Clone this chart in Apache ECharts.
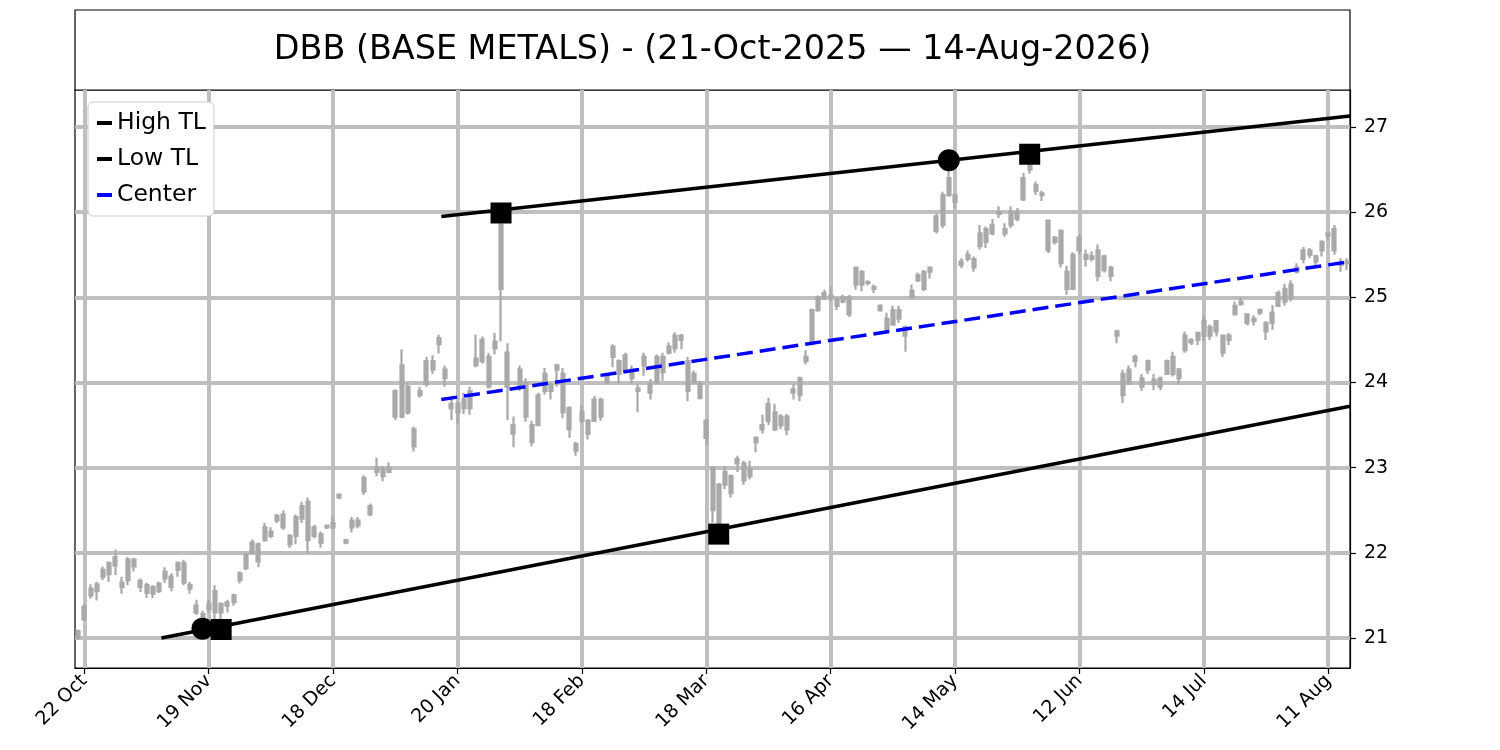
<!DOCTYPE html>
<html>
<head>
<meta charset="utf-8">
<script src="https://cdn.jsdelivr.net/npm/echarts@6/dist/echarts.min.js"></script>
<style>
html,body{margin:0;padding:0;background:#ffffff;}
#chart{width:1500px;height:750px;}
</style>
</head>
<body>
<div id="chart"></div>
<script>
// ---------------- DATA ----------------
const titleText = 'DBB (BASE METALS) - (21-Oct-2025 \u2014 14-Aug-2026)';
const startDate = '2025-10-21';
const marketHolidays = ['2025-11-27','2025-12-25','2026-01-01','2026-01-19','2026-02-16',
  '2026-04-03','2026-05-25','2026-06-19','2026-07-03'];
const monthNames = ['Jan','Feb','Mar','Apr','May','Jun','Jul','Aug','Sep','Oct','Nov','Dec'];
const xTickLabels = ['22 Oct','19 Nov','18 Dec','20 Jan','18 Feb','18 Mar','16 Apr','14 May','12 Jun','14 Jul','11 Aug'];
const yTicks = [21, 22, 23, 24, 25, 26, 27];

// [open, close, low, high] per trading day
const candles = [
  [21.08,21.00,20.98,21.10],[21.22,21.37,21.20,21.40],[21.50,21.58,21.46,21.63],[21.55,21.63,21.44,21.66],
  [21.72,21.80,21.68,21.84],[21.75,21.88,21.66,21.90],[21.85,21.95,21.74,22.04],[21.65,21.60,21.52,21.72],
  [21.68,21.92,21.62,21.95],[21.92,21.84,21.78,21.94],[21.67,21.60,21.54,21.70],[21.62,21.53,21.47,21.65],
  [21.52,21.60,21.47,21.62],[21.55,21.64,21.53,21.66],[21.70,21.78,21.65,21.83],[21.60,21.72,21.55,21.76],
  [21.80,21.88,21.72,21.90],[21.88,21.65,21.62,21.92],[21.62,21.58,21.52,21.66],[21.38,21.30,21.27,21.45],
  [21.28,21.20,21.11,21.32],[21.40,21.34,21.30,21.45],[21.30,21.55,21.22,21.62],[21.40,21.30,21.10,21.42],
  [21.38,21.42,21.30,21.45],[21.42,21.50,21.38,21.52],[21.68,21.76,21.64,21.78],[21.82,21.98,21.80,22.00],
  [22.00,22.12,21.98,22.16],[22.10,21.90,21.83,22.12],[22.15,22.30,22.13,22.35],[22.25,22.20,22.17,22.30],
  [22.38,22.43,22.35,22.46],[22.45,22.30,22.27,22.50],[22.10,22.20,22.06,22.22],[22.20,22.42,22.10,22.45],
  [22.40,22.55,22.35,22.60],[22.60,22.15,21.99,22.65],[22.30,22.20,22.17,22.33],[22.22,22.12,22.06,22.25],
  [22.30,22.32,22.28,22.33],[22.30,22.35,22.28,22.42],[22.65,22.68,22.63,22.70],[22.15,22.12,22.10,22.16],
  [22.30,22.38,22.24,22.42],[22.38,22.32,22.29,22.42],[22.72,22.88,22.68,22.91],[22.55,22.45,22.43,22.58],
  [23.00,22.95,22.90,23.12],[22.98,22.90,22.84,23.02],[22.95,23.00,22.95,23.06],[23.60,23.90,23.56,23.92],
  [23.60,24.20,23.58,24.39],[23.95,23.65,23.62,24.00],[23.45,23.25,23.19,23.48],[23.90,23.85,23.82,23.95],
  [23.98,24.25,23.95,24.30],[24.15,24.25,24.10,24.32],[24.45,24.52,24.34,24.56],[24.15,24.05,23.95,24.20],
  [23.75,23.70,23.56,23.80],[23.75,23.65,23.52,23.77],[23.80,23.70,23.63,23.88],[23.90,23.70,23.62,23.95],
  [24.20,24.28,24.18,24.56],[24.50,24.25,24.22,24.54],[24.30,23.95,23.93,24.35],[24.40,24.48,24.33,24.58],
  [25.10,25.85,24.48,25.99],[24.35,23.95,23.56,24.46],[23.50,23.40,23.24,23.60],[24.15,23.95,23.90,24.20],
  [24.00,23.60,23.54,24.05],[23.50,23.30,23.25,23.55],[23.50,23.85,23.50,23.88],[23.90,24.10,23.86,24.17],
  [23.90,23.97,23.80,24.00],[24.15,24.20,23.95,24.22],[24.10,23.65,23.58,24.17],[23.70,23.45,23.35,23.72],
  [23.28,23.20,23.14,23.30],[23.65,23.55,23.53,23.73],[23.55,23.40,23.33,23.57],[23.55,23.80,23.55,23.84],
  [23.80,23.60,23.55,23.82],[24.08,24.00,23.98,24.10],[24.30,24.42,24.18,24.45],[24.25,24.10,23.98,24.27],
  [24.15,24.32,24.12,24.35],[24.15,24.05,23.98,24.20],[23.90,23.93,23.65,23.98],[24.20,24.30,24.08,24.35],
  [23.98,23.88,23.80,24.04],[24.00,24.30,23.98,24.33],[24.30,24.12,24.02,24.35],[24.35,24.42,24.33,24.47],
  [24.55,24.40,24.35,24.59],[24.50,24.55,24.39,24.57],[24.25,23.90,23.78,24.30],[24.10,24.00,23.98,24.14],
  [23.98,23.82,23.80,24.02],[23.55,23.35,23.27,23.57],[23.00,22.50,22.35,23.02],[22.80,22.35,22.22,22.82],
  [22.80,22.95,22.75,23.02],[22.90,22.70,22.65,22.92],[23.05,23.10,22.95,23.14],[23.05,22.85,22.80,23.08],
  [22.90,22.98,22.86,23.08],[23.30,23.35,23.18,23.37],[23.45,23.50,23.40,23.62],[23.75,23.55,23.50,23.82],
  [23.65,23.45,23.43,23.75],[23.50,23.60,23.45,23.63],[23.60,23.45,23.38,23.63],[23.92,23.88,23.80,23.98],
  [23.85,24.05,23.78,24.07],[24.25,24.30,24.21,24.38],[24.45,24.85,24.44,24.87],[24.85,25.00,24.83,25.02],
  [25.00,25.05,24.97,25.09],[25.00,25.02,24.95,25.12],[24.90,24.98,24.85,25.00],[25.00,24.95,24.93,25.03],
  [25.00,24.80,24.77,25.03],[25.15,25.35,25.09,25.36],[25.30,25.15,25.07,25.32],[25.17,25.18,25.14,25.20],
  [25.12,25.10,25.05,25.15],[24.90,24.85,24.83,24.92],[24.75,24.60,24.58,24.82],[24.68,24.85,24.68,24.90],
  [24.75,24.85,24.70,24.90],[24.65,24.55,24.36,24.67],[25.00,25.08,25.00,25.15],[25.20,25.26,25.18,25.29],
  [25.30,25.10,25.07,25.32],[25.30,25.35,25.22,25.36],[25.78,25.95,25.75,25.98],[25.85,26.20,25.81,26.24],
  [26.20,26.40,26.18,26.61],[26.20,26.12,26.05,26.22],[25.42,25.38,25.34,25.46],[25.45,25.50,25.42,25.55],
  [25.45,25.35,25.30,25.48],[25.60,25.75,25.56,25.85],[25.80,25.65,25.58,25.83],[25.75,25.85,25.73,25.92],
  [26.00,25.98,25.93,26.07],[25.80,25.75,25.71,25.87],[25.85,26.00,25.81,26.07],[26.00,25.92,25.89,26.05],
  [26.15,26.40,26.13,26.46],[26.50,26.55,26.45,26.68],[26.32,26.25,26.20,26.36],[26.22,26.20,26.13,26.25],
  [25.90,25.55,25.52,25.90],[25.70,25.65,25.62,25.72],[25.78,25.40,25.35,25.80],[25.30,25.10,25.03,25.37],
  [25.10,25.50,25.09,25.53],[25.70,25.55,25.50,25.74],[25.50,25.45,25.36,25.56],[25.48,25.45,25.42,25.54],
  [25.55,25.25,25.19,25.62],[25.48,25.32,25.29,25.50],[25.35,25.25,25.19,25.37],[24.60,24.55,24.46,24.62],
  [24.10,23.85,23.76,24.15],[24.00,24.15,23.97,24.20],[24.25,24.30,24.18,24.33],[24.05,23.95,23.90,24.10],
  [24.15,24.25,24.10,24.27],[24.03,23.98,23.91,24.10],[24.05,23.95,23.91,24.07],[24.10,24.25,24.09,24.27],
  [24.10,24.30,24.07,24.36],[24.15,24.05,23.97,24.17],[24.38,24.55,24.35,24.60],[24.50,24.47,24.44,24.52],
  [24.50,24.58,24.44,24.60],[24.55,24.72,24.48,24.79],[24.65,24.55,24.50,24.68],[24.60,24.72,24.54,24.73],
  [24.55,24.35,24.30,24.56],[24.50,24.55,24.44,24.58],[24.80,24.90,24.79,24.95],[24.95,24.92,24.90,25.00],
  [24.80,24.70,24.67,24.81],[24.75,24.72,24.67,24.79],[24.82,24.85,24.79,24.87],[24.70,24.60,24.50,24.72],
  [24.70,24.82,24.62,24.91],[24.90,25.05,24.89,25.08],[25.10,24.95,24.90,25.16],[25.00,25.15,24.95,25.20],
  [25.35,25.30,25.28,25.40],[25.45,25.55,25.40,25.59],[25.50,25.55,25.46,25.58],[25.42,25.48,25.38,25.50],
  [25.55,25.65,25.48,25.67],[25.72,25.75,25.67,25.77],[25.80,25.55,25.50,25.85],[25.40,25.38,25.30,25.46],
  [25.40,25.42,25.32,25.46]
];

// trend lines: [trading-day index, price]
const highTL = [[58.4, 25.95], [204.5, 27.13]];
const lowTL = [[13.4, 21.00], [204.5, 23.72]];
const centerTL = [[58.4, 23.80], [204.5, 25.42]];
// pivot markers: [trading-day index, price]
const pivotCircles = [[20, 21.11], [140, 26.61]];
const pivotSquares = [[23, 21.10], [68, 25.99], [103, 22.22], [153, 26.68]];

// ---------------- BUILD ----------------
function buildTradingDays(startIso, count, skip) {
  const out = [];
  const d = new Date(startIso + 'T00:00:00Z');
  while (out.length < count) {
    const iso = d.toISOString().slice(0, 10);
    const wd = d.getUTCDay();
    if (wd !== 0 && wd !== 6 && skip.indexOf(iso) < 0) out.push(iso);
    d.setUTCDate(d.getUTCDate() + 1);
  }
  return out;
}
const tradingDays = buildTradingDays(startDate, candles.length, marketHolidays);
const dayLabels = tradingDays.map(function (iso) {
  return (+iso.slice(8, 10)) + ' ' + monthNames[+iso.slice(5, 7) - 1];
});
const xTickIdx = xTickLabels.map(function (l) { return dayLabels.indexOf(l); });

const FONT = 'DejaVu Sans';
const GRIDC = '#bfbfbf';
const chart = echarts.init(document.getElementById('chart'), null, { renderer: 'canvas' });

chart.setOption({
  animation: false,
  backgroundColor: '#ffffff',
  textStyle: { fontFamily: FONT },
  title: {
    text: titleText,
    left: 712.5, top: 50, padding: 0,
    textAlign: 'center', textVerticalAlign: 'middle',
    textStyle: { fontFamily: FONT, fontSize: 33.4, fontWeight: 'normal', color: '#000' },
    z: 10
  },
  graphic: [{
    type: 'rect', z: 0, silent: true,
    shape: { x: 75, y: 10, width: 1275, height: 80 },
    style: { fill: '#ffffff', stroke: '#000000', lineWidth: 1.2 }
  }],
  legend: {
    data: ['High TL', 'Low TL', 'Center'],
    orient: 'vertical', left: 88, top: 102,
    icon: 'rect', itemWidth: 15, itemHeight: 4, itemGap: 8,
    backgroundColor: '#ffffff', borderColor: '#cccccc', borderWidth: 1, borderRadius: 5,
    padding: [7, 8, 7, 9],
    textStyle: { fontFamily: FONT, fontSize: 23.5, lineHeight: 28, color: '#000' },
    z: 20
  },
  grid: {
    left: 75, right: 150, top: 90, bottom: 82,
    show: true, borderColor: '#000000', borderWidth: 1.2, backgroundColor: 'rgba(0,0,0,0)'
  },
  xAxis: [{
    type: 'category', data: dayLabels, boundaryGap: true, show: false
  }, {
    type: 'value', min: -0.5, max: candles.length - 0.5, position: 'bottom',
    axisLine: { show: true, onZero: false, lineStyle: { color: '#000', width: 1.2 } },
    axisTick: { show: true, length: 6, customValues: xTickIdx, lineStyle: { color: '#000', width: 1.2 } },
    axisLabel: {
      customValues: xTickIdx, rotate: 45, margin: 10, fontSize: 19, color: '#000', fontFamily: FONT,
      formatter: function (v) { return dayLabels[Math.round(v)]; }
    },
    splitLine: { show: true, lineStyle: { color: GRIDC, width: 4 } }
  }],
  yAxis: {
    type: 'value', position: 'right', min: 20.648, max: 27.434, scale: true,
    axisLine: { show: true, onZero: false, lineStyle: { color: '#000', width: 1.2 } },
    axisTick: { show: true, length: 6, customValues: yTicks, lineStyle: { color: '#000', width: 1.2 } },
    axisLabel: { customValues: yTicks, margin: 14, fontSize: 19, color: '#000', fontFamily: FONT },
    splitLine: { show: true, lineStyle: { color: GRIDC, width: 4 } }
  },
  series: [{
    name: 'Price', type: 'candlestick', xAxisIndex: 0, yAxisIndex: 0,
    data: candles, barWidth: 3.5,
    itemStyle: { color: '#a9a9a9', color0: '#a9a9a9', borderColor: '#a9a9a9', borderColor0: '#a9a9a9', borderWidth: 2.2, opacity: 1 },
    z: 2
  }, {
    name: 'High TL', type: 'line', xAxisIndex: 1, data: highTL, symbol: 'none',
    color: '#000000', lineStyle: { color: '#000000', width: 3.5 }, z: 3
  }, {
    name: 'Low TL', type: 'line', xAxisIndex: 1, data: lowTL, symbol: 'none',
    color: '#000000', lineStyle: { color: '#000000', width: 3.5 }, z: 3
  }, {
    name: 'Center', type: 'line', xAxisIndex: 1, data: centerTL, symbol: 'none',
    color: '#0000ff', lineStyle: { color: '#0000ff', width: 3.5, type: [16, 7] }, z: 3
  }, {
    name: 'Pivot circles', type: 'scatter', xAxisIndex: 1, data: pivotCircles,
    symbol: 'circle', symbolSize: 22, itemStyle: { color: '#000000', opacity: 1 }, z: 5
  }, {
    name: 'Pivot squares', type: 'scatter', xAxisIndex: 1, data: pivotSquares,
    symbol: 'rect', symbolSize: 21, itemStyle: { color: '#000000', opacity: 1 }, z: 5
  }]
});
</script>
</body>
</html>
